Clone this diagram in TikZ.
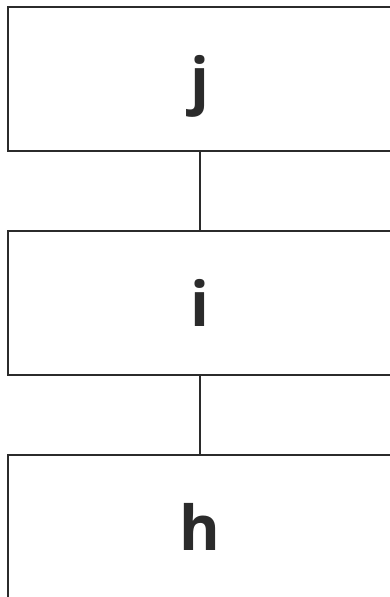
\documentclass[tikz,border=0pt]{standalone}
\usepackage{fontspec}
\setmainfont{Open Sans}
\definecolor{ink}{HTML}{2B2B2B}
\begin{document}
\begin{tikzpicture}[x=1pt,y=-1pt,
  box/.style={draw=ink,line width=2pt,minimum width=384pt,minimum height=144pt,inner sep=0pt,
    text height=46pt,text depth=0pt,
    text=ink,font=\fontsize{62}{62}\selectfont\bfseries},
  link/.style={draw=ink,line width=1.6pt}]
\useasboundingbox (0,0) rectangle (390,597);
\clip (0,0) rectangle (390,597);
\node[box] (j) at (200,79) {j};
\node[box] (i) at (200,303) {i};
\node[box] (h) at (200,527) {h};
\draw[link] (j) -- (i);
\draw[link] (i) -- (h);
\end{tikzpicture}
\end{document}
